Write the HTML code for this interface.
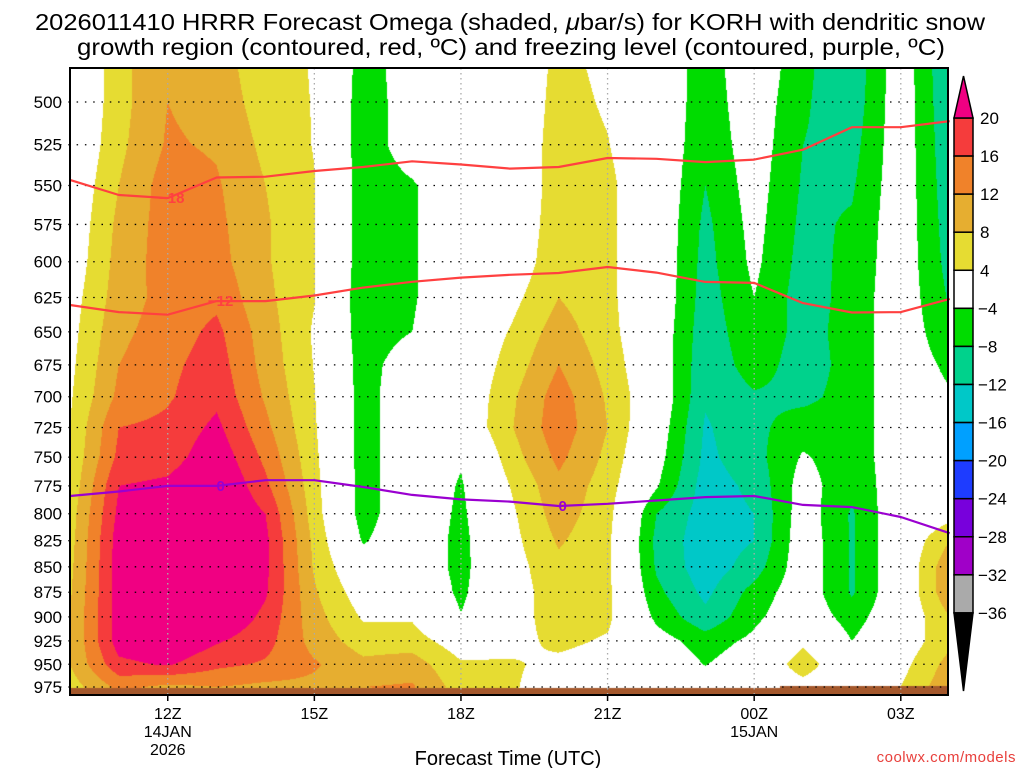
<!DOCTYPE html>
<html><head><meta charset="utf-8">
<style>
html,body{margin:0;padding:0;background:#fff;}
#wrap{position:relative;width:1024px;height:768px;overflow:hidden;font-family:"Liberation Sans",sans-serif;}
#field{position:absolute;left:70px;top:68px;}
#ov{position:absolute;left:0;top:0;}
</style></head>
<body>
<div id="wrap">
<canvas id="field" width="878" height="627"></canvas>
<svg id="ov" width="1024" height="768" xmlns="http://www.w3.org/2000/svg">
<text x="510" y="30" text-anchor="middle" font-size="23" textLength="950" lengthAdjust="spacingAndGlyphs" fill="#000">2026011410 HRRR Forecast Omega (shaded, <tspan font-style="italic">μ</tspan>bar/s) for KORH with dendritic snow</text>
<text x="511" y="55" text-anchor="middle" font-size="23" textLength="868" lengthAdjust="spacingAndGlyphs" fill="#000">growth region (contoured, red, ºC) and freezing level (contoured, purple, ºC)</text>
<g id="grid"></g>
<g id="lines"></g>
<rect x="70" y="68" width="878" height="627" fill="none" stroke="#000" stroke-width="2"/>
<g id="axes"></g>
<g id="cbar"></g>
<text x="508" y="765" text-anchor="middle" font-size="20" fill="#000">Forecast Time (UTC)</text>
<text x="1016" y="762" text-anchor="end" font-size="15" fill="#e8403c" letter-spacing="0.5">coolwx.com/models</text>
</svg>
</div>
<script>
// ---- data ----
const hours = [10,11,12,13,14,15,16,17,18,19,20,21,22,23,24,25,26,27,28];
const levels = [475,500,525,550,575,600,625,650,675,700,725,750,775,800,825,850,875,900,925,950,975,1000];
const omega_10Z = [-2,-1.5,-1,0,0.5,1,2,2.5,3,3.5,4,4.5,5,6,6.5,7,7.5,8,8,8,6,5];
const omega_11Z = [6.5,6.5,7,8,9,9.5,10,11,12,13,16,17,20,21,22,22,22,22,22,19,13,10];
const omega_12Z = [12,12,12.5,14,14,14,13.5,14,15,15.5,17,18,21,24,24,24,24,24,24,20.5,11,8];
const omega_13Z = [10,10.5,11.5,12.5,13,13.5,15,17,18,19,21,23,25,25,25,25,25,24,20.5,17,12,8];
const omega_14Z = [5,6,7,8,8.5,8.5,9,10,10.5,11.5,13,15,17,20,21,21,20.5,19,17.5,15.5,11,8];
const omega_15Z = [3.8,3.8,3.8,4.2,4.2,4.2,4.2,3.5,3.8,4.2,4.5,5,5.5,6,7,7.5,8.5,9.5,10.5,12.5,11,8];
const omega_16Z = [-6,-6.5,-6.5,-6.5,-6.5,-6.5,-7,-6.5,-6,-6,-6,-6,-6,-6,-4.5,-1,1.5,3.5,6,9,12,8];
const omega_17Z = [-1.5,-1.5,-1.5,-4.5,-4.6,-4.6,-4.5,-4,-1,0,0,0,0,0,0,0,1,3.5,6,10,12.5,8];
const omega_18Z = [0,0,0,0,0,0,0,0,0,0,0,-3.5,-4.5,-5,-5.5,-5.5,-5,-3.8,1.5,4.5,6,4];
const omega_19Z = [0,0,0,0,0,0.5,2.5,4.2,5.5,7,7.5,6,4,3,2.5,2,2,2,2.5,4.5,4.5,3];
const omega_20Z = [5,5.5,6,6,6.5,7,8,10,12,14,14.5,13,11,10,8.5,7,6,6,5,3,2,1];
const omega_21Z = [3,3.5,4.2,5,5,5,5,5.5,6.5,7.5,8,7,6,5.5,5,5,5,5,3.5,2,1,0];
const omega_22Z = [0,0,0,0,0,0,0,-0.5,-0.5,0,-1,-2,-3.5,-8,-9,-8.5,-7,-5,-2,0,0,0];
const omega_23Z = [-6.5,-6.5,-7,-8,-9,-9.5,-10,-10.5,-11,-11.5,-12.5,-13,-14,-14,-14.5,-14.5,-13,-11,-6,-4.2,-1,0];
const omega_00Z = [0,-1,-1.5,-2,-2.5,-3,-4,-5,-6,-8.5,-9,-9.5,-11,-12,-12,-10,-6.5,-5,-3,-1,0,0];
const omega_01Z = [-7,-7.5,-8,-8.5,-9,-9.5,-10,-9.5,-10,-9,-6,-3.5,-2,-1.5,-1,-1,-1,-0.5,3,6.5,2,0];
const omega_02Z = [-11,-10.5,-9.5,-8.5,-7.5,-7,-6.5,-6.5,-6.5,-6.5,-6.5,-6.5,-7,-8.5,-8.5,-8.5,-8.5,-6,-4,-1,0,0];
const omega_03Z = [-1,-1,-1,-1,-1,-1,-1,-1,-1,-1,-1,-1,-1,0,0,0,0,0,1,2.5,4,3];
const omega_04Z = [-12,-11.5,-11,-10.5,-10,-9.5,-8.5,-7,-5,-3.5,-2,-1,0,2,8,11,11,8,7,9.5,11,8];
const omegaColumns = [omega_10Z,omega_11Z,omega_12Z,omega_13Z,omega_14Z,omega_15Z,omega_16Z,omega_17Z,omega_18Z,omega_19Z,omega_20Z,omega_21Z,omega_22Z,omega_23Z,omega_00Z,omega_01Z,omega_02Z,omega_03Z,omega_04Z];

const isoMinus18 = [546.5,556,558,545,544.5,541,538.5,535,537,539.5,538.5,533,533.5,535.5,534,528,514.6,514.6,511];
const isoMinus12 = [630.4,635.5,637.4,627.6,627.6,623.6,618,613.9,611,609,607.8,603.6,607.5,614,614.7,629,635.8,635.5,626];
const isoZero = [784,780,775,775,770,770,776,783,787,789,793,791,788,785,784,792,794,803,818];

const yTicks = [500,525,550,575,600,625,650,675,700,725,750,775,800,825,850,875,900,925,950,975];
const xTickHours = [12,15,18,21,24,27];
const xTickLabels = ["12Z","15Z","18Z","21Z","00Z","03Z"];
const xTickSub1 = ["14JAN","","","","15JAN",""];
const xTickSub2 = ["2026","","","","",""];

const cbarLevels = [20,16,12,8,4,-4,-8,-12,-16,-20,-24,-28,-32,-36];
const cbarColors = ["#f53c3c","#f0822a","#e6ae30","#e6dc32","#ffffff","#00dc00","#00d28c","#00c8c8","#00a0ff","#1e3cff","#7800dc","#a000c8","#aaaaaa"];

// ---- axis functions ----
const X0=70, PW=878, Y0=68, PH=627;
function xOf(h){ return 70 + (h-10)*48.87; }
function yOf(p){ return 102 + 876*Math.log(p/500); }
function pOfY(y){ return 500*Math.exp((y-102)/876); }
function hOfX(x){ return 10 + (x-70)/48.87; }

function valAt(h,p){
  let fi = Math.max(0, Math.min(hours.length-1.0001, h-hours[0]));
  let i = Math.floor(fi), ti = fi-i;
  let fj = Math.max(0, Math.min(levels.length-1.0001, (p-levels[0])/25));
  let j = Math.floor(fj), tj = fj-j;
  const a=omegaColumns[i], b=omegaColumns[i+1];
  const vt = a[j]*(1-ti)+b[j]*ti, vb = a[j+1]*(1-ti)+b[j+1]*ti;
  return vt*(1-tj)+vb*tj;
}
function colorOf(v){
  if(v>=20) return [240,0,130];
  if(v>=16) return [245,60,60];
  if(v>=12) return [240,130,42];
  if(v>=8) return [230,174,48];
  if(v>=4) return [230,220,50];
  if(v>-4) return [255,255,255];
  if(v>-8) return [0,220,0];
  if(v>-12) return [0,210,140];
  if(v>-16) return [0,200,200];
  if(v>-20) return [0,160,255];
  if(v>-24) return [30,60,255];
  return [120,0,220];
}
// ---- shaded field ----
(function(){
  const cv=document.getElementById('field'), ctx=cv.getContext('2d');
  const img=ctx.createImageData(PW,PH), d=img.data;
  for(let py=0;py<PH;py++){
    const p=pOfY(Y0+py+0.5);
    for(let px=0;px<PW;px++){
      const c=colorOf(valAt(hOfX(X0+px+0.5),p));
      const k=(py*PW+px)*4; d[k]=c[0];d[k+1]=c[1];d[k+2]=c[2];d[k+3]=255;
    }
  }
  ctx.putImageData(img,0,0);
  ctx.fillStyle='#a4582c';
  ctx.fillRect(0,620,PW,7);
  ctx.fillRect(710,618,PW-710,9);
})();
// ---- overlay ----
const NS='http://www.w3.org/2000/svg';
function mk(tag,attrs,parent){const e=document.createElementNS(NS,tag);for(const k in attrs)e.setAttribute(k,attrs[k]);parent.appendChild(e);return e;}
const gridG=document.getElementById('grid'), axesG=document.getElementById('axes'), linesG=document.getElementById('lines'), cbarG=document.getElementById('cbar');
yTicks.forEach(p=>{
  const y=yOf(p);
  const l=mk('line',{x1:60,x2:948,y1:y,y2:y,stroke:'#000','stroke-width':1.3,'stroke-dasharray':'1.5 6.8'},gridG);
  
  
  const t=mk('text',{x:62,y:y+6,'text-anchor':'end','font-size':17,fill:'#000'},axesG);
  t.textContent=String(p);
  
  
});
xTickHours.forEach((h,i)=>{
  const x=xOf(h);
  const l=mk('line',{x1:x,x2:x,y1:68,y2:695,stroke:'#aaa','stroke-width':1.3,'stroke-dasharray':'1.5 3.5'},gridG);
  
  
  const tk=mk('line',{x1:x,x2:x,y1:695,y2:701,stroke:'#000','stroke-width':1.5},axesG);
  
  
  [[xTickLabels[i],719],[xTickSub1[i],737],[xTickSub2[i],755]].forEach(([s,yy])=>{
    if(!s) return;
    const t=mk('text',{x:x,y:yy,'text-anchor':'middle','font-size':16,fill:'#000'},axesG);
    t.textContent=s;
    
    
  });
});
function drawIso(arr,color,name,labelText,labelHours){
  const pts=arr.map((p,i)=>xOf(hours[i]).toFixed(1)+','+yOf(p).toFixed(1)).join(' ');
  const pl=mk('polyline',{points:pts,fill:'none',stroke:color,'stroke-width':2.2,'stroke-linejoin':'round'},linesG);
  
  
  labelHours.forEach(h=>{
    const i=h-hours[0];
    const t=mk('text',{x:xOf(h)+4,y:yOf(arr[i])+5,'text-anchor':'middle','font-size':15,'font-weight':'bold',fill:color},linesG);
    t.textContent=labelText;
    
    
  });
}
drawIso(isoMinus18,'#ff4040','isotherm-minus18','−18',[12]);
drawIso(isoMinus12,'#ff4040','isotherm-minus12','−12',[13]);
drawIso(isoZero,'#9a00d0','freezing-level','0',[13,20]);
// colorbar
const CBX=954, CBW=19, cbStep=38.07, cbTop=118;
cbarColors.forEach((c,i)=>{
  const r=mk('rect',{x:CBX,y:cbTop+i*cbStep,width:CBW,height:cbStep,fill:c,stroke:'#000','stroke-width':1.5},cbarG);
  
  
});
const tu=mk('polygon',{points:`${CBX},${cbTop} ${CBX+CBW},${cbTop} ${CBX+CBW/2},76`,fill:'#f00082',stroke:'#000','stroke-width':1.5},cbarG);


const cbBottom=cbTop+cbarColors.length*cbStep;
const td=mk('polygon',{points:`${CBX},${cbBottom} ${CBX+CBW},${cbBottom} ${CBX+CBW/2},691`,fill:'#000',stroke:'#000','stroke-width':1.5},cbarG);


cbarLevels.forEach((v,i)=>{
  const t=mk('text',{x:v<0?978:980,y:cbTop+i*cbStep+6,'font-size':17,fill:'#000'},cbarG);
  t.textContent=v<0?'−'+Math.abs(v):String(v);
  
  
});
</script>
</body></html>
